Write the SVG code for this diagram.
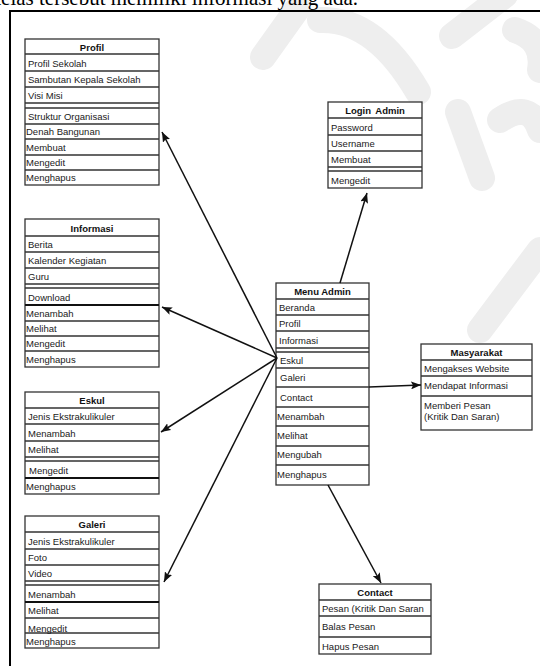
<svg xmlns="http://www.w3.org/2000/svg" width="540" height="666" viewBox="0 0 540 666">
<style>
.box{fill:#fff;stroke:#333;stroke-width:1.3}
.ln{stroke:#333;stroke-width:1.3}
.tk{stroke:#111;stroke-width:2}
.t{font-family:"Liberation Sans",Arial,sans-serif;font-size:9.5px;fill:#1a1a1a}
.h{font-family:"Liberation Sans",Arial,sans-serif;font-size:9.5px;font-weight:bold;fill:#111;text-anchor:middle}
.conn{stroke:#111;stroke-width:1.5;fill:none;marker-end:url(#ah)}
.wm{stroke:#eeeeee;stroke-width:26;fill:none;stroke-linecap:round}
</style>
<defs>
<marker id="ah" markerUnits="userSpaceOnUse" markerWidth="11" markerHeight="8" refX="10" refY="4" orient="auto">
<path d="M0,0 L10,4 L0,8 L2,4 z" fill="#111"/>
</marker>
</defs>
<rect width="540" height="666" fill="#fff"/>
<g id="watermark">
<path class="wm" d="M263,57 L298,8"/>
<path class="wm" d="M320,20 Q375,18 418,92"/>
<path class="wm" d="M452,36 L505,-5"/>
<path class="wm" d="M515,30 Q545,40 540,70"/>
<path class="wm" d="M458,112 L482,178"/>
<path class="wm" d="M500,120 Q530,100 540,130"/>
<path class="wm" d="M480,330 L540,250"/>
</g>
<text x="358" y="5" text-anchor="end" font-family="'Liberation Serif','Times New Roman',serif" font-size="21" fill="#000">kelas tersebut memiliki informasi yang ada.</text>
<path d="M9,11 H540 M10,11 V666" stroke="#000" stroke-width="2" fill="none"/>

<g id="profil">
<rect class="box" x="25" y="39" width="134" height="146"/>
<path class="ln" d="M25,54H159M25,71H159M25,87H159M25,103H159M25,108H159M25,124H159M25,139H159M25,155H159M25,170H159"/>
<text class="h" x="92" y="51">Profil</text>
<text class="t" x="28" y="67">Profil Sekolah</text>
<text class="t" x="28" y="83">Sambutan Kepala Sekolah</text>
<text class="t" x="28" y="99">Visi Misi</text>
<text class="t" x="28" y="120">Struktur Organisasi</text>
<text class="t" x="26" y="135">Denah Bangunan</text>
<text class="t" x="26" y="151">Membuat</text>
<text class="t" x="26" y="166">Mengedit</text>
<text class="t" x="26" y="181">Menghapus</text>
</g>

<g id="informasi">
<rect class="box" x="25" y="219" width="134" height="148"/>
<path class="ln" d="M25,236H159M25,252H159M25,268H159M25,284H159M25,288H159M25,321H159M25,336H159M25,351H159"/>
<path class="tk" d="M25,305H159"/>
<text class="h" x="92" y="232">Informasi</text>
<text class="t" x="28" y="248">Berita</text>
<text class="t" x="28" y="264">Kalender Kegiatan</text>
<text class="t" x="28" y="280">Guru</text>
<text class="t" x="28" y="301">Download</text>
<text class="t" x="26" y="317">Menambah</text>
<text class="t" x="26" y="332">Melihat</text>
<text class="t" x="26" y="347">Mengedit</text>
<text class="t" x="26" y="363">Menghapus</text>
</g>

<g id="eskul">
<rect class="box" x="25" y="392" width="134" height="102"/>
<path class="ln" d="M25,408H159M25,424H159M25,441H159M25,457H159M25,461H159"/>
<path class="tk" d="M25,478H159"/>
<text class="h" x="92" y="404">Eskul</text>
<text class="t" x="28" y="420">Jenis Ekstrakulikuler</text>
<text class="t" x="28" y="437">Menambah</text>
<text class="t" x="28" y="453">Melihat</text>
<text class="t" x="29" y="474">Mengedit</text>
<text class="t" x="26" y="490">Menghapus</text>
</g>

<g id="galeri">
<rect class="box" x="25" y="516" width="134" height="132"/>
<path class="ln" d="M25,532H159M25,549H159M25,565H159M25,581H159M25,585H159M25,618H159M25,633H159"/>
<path class="tk" d="M25,602H159"/>
<text class="h" x="92" y="528">Galeri</text>
<text class="t" x="28" y="545">Jenis Ekstrakulikuler</text>
<text class="t" x="28" y="561">Foto</text>
<text class="t" x="28" y="577">Video</text>
<text class="t" x="28" y="598">Menambah</text>
<text class="t" x="28" y="614">Melihat</text>
<text class="t" x="28" y="632">Mengedit</text>
<text class="t" x="26" y="645">Menghapus</text>
</g>

<g id="login-admin">
<rect class="box" x="328" y="102" width="94" height="86"/>
<path class="ln" d="M328,118H422M328,135H422M328,151H422M328,167H422M328,171H422"/>
<text class="h" x="375" y="114" word-spacing="2">Login Admin</text>
<text class="t" x="331" y="131">Password</text>
<text class="t" x="331" y="147">Username</text>
<text class="t" x="331" y="163">Membuat</text>
<text class="t" x="331" y="184">Mengedit</text>
</g>

<g id="menu-admin">
<rect class="box" x="276" y="283" width="93" height="202"/>
<path class="ln" d="M276,299H369M276,315H369M276,331H369M276,348H369M276,352H369M276,368H369M276,387H369M276,407H369M276,426H369M276,446H369M276,465H369"/>
<text class="h" x="322.5" y="295">Menu Admin</text>
<text class="t" x="279" y="311">Beranda</text>
<text class="t" x="279" y="327">Profil</text>
<text class="t" x="279" y="344">Informasi</text>
<text class="t" x="280" y="364">Eskul</text>
<text class="t" x="280" y="381">Galeri</text>
<text class="t" x="280" y="401">Contact</text>
<text class="t" x="277" y="420">Menambah</text>
<text class="t" x="277" y="439">Melihat</text>
<text class="t" x="277" y="458">Mengubah</text>
<text class="t" x="277" y="478">Menghapus</text>
</g>

<g id="masyarakat">
<rect class="box" x="421" y="344" width="111" height="86"/>
<path class="ln" d="M421,360H532M421,376H532M421,396H532"/>
<text class="h" x="476.5" y="356">Masyarakat</text>
<text class="t" x="424" y="372">Mengakses Website</text>
<text class="t" x="424" y="389">Mendapat Informasi</text>
<text class="t" x="424" y="409">Memberi Pesan</text>
<text class="t" x="424" y="420">(Kritik Dan Saran)</text>
</g>

<g id="contact">
<rect class="box" x="319" y="584" width="112" height="70"/>
<path class="ln" d="M319,600H431M319,616H431M319,637H431"/>
<text class="h" x="375" y="596">Contact</text>
<text class="t" x="322" y="612">Pesan (Kritik Dan Saran</text>
<text class="t" x="322" y="630">Balas Pesan</text>
<text class="t" x="322" y="650">Hapus Pesan</text>
</g>

<g id="connectors">
<line class="conn" x1="340" y1="283" x2="367" y2="193"/>
<line class="conn" x1="277" y1="358" x2="162" y2="132"/>
<line class="conn" x1="277" y1="358" x2="162" y2="307"/>
<line class="conn" x1="277" y1="358" x2="161" y2="432"/>
<line class="conn" x1="277" y1="358" x2="164" y2="582"/>
<line class="conn" x1="369" y1="387" x2="421" y2="385"/>
<line class="conn" x1="328" y1="485" x2="381" y2="583"/>
</g>
</svg>
